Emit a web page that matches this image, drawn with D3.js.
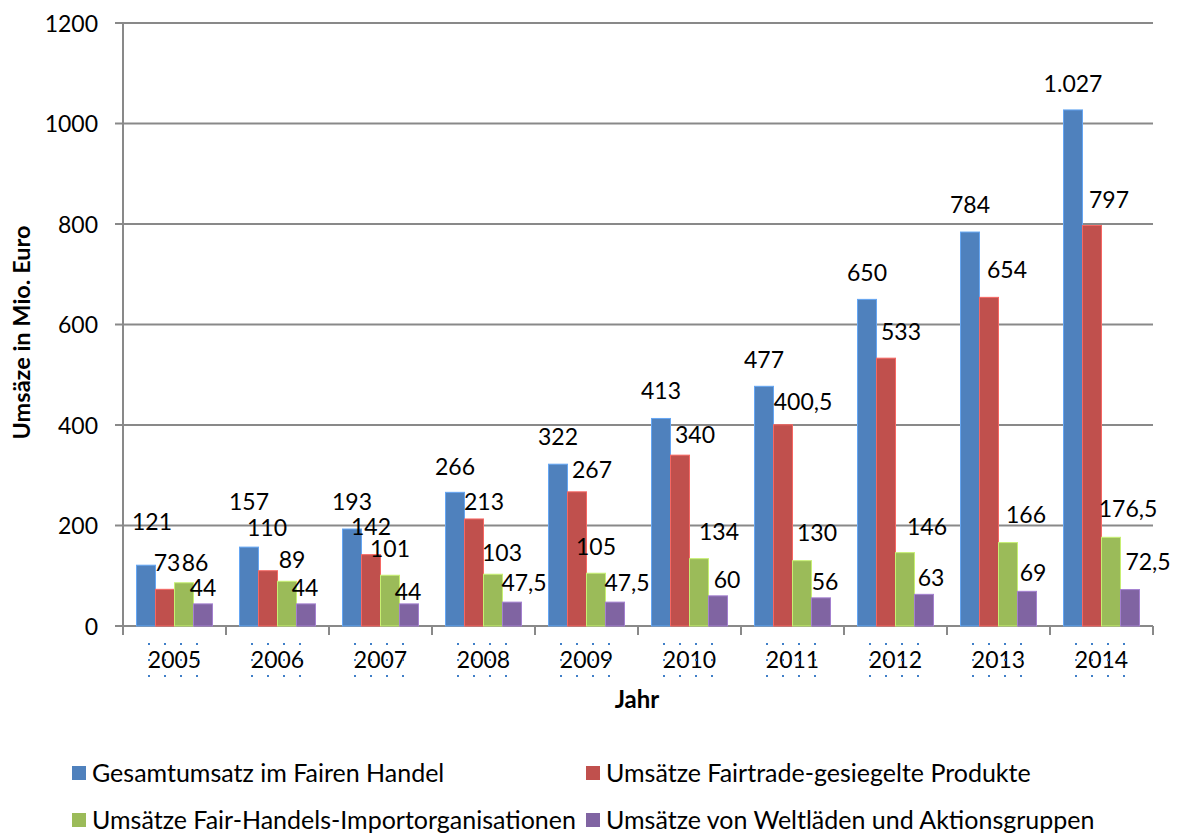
<!DOCTYPE html>
<html>
<head>
<meta charset="utf-8">
<script src="https://d3js.org/d3.v7.min.js"></script>
<style>
  body { margin: 0; background: #fff; }
  svg text { font-family: Lato, "Open Sans", sans-serif; fill: #000; }
</style>
</head>
<body>
<svg id="chart" width="1177" height="835"></svg>
<script>
// categories and series
var years = ["2005", "2006", "2007", "2008", "2009", "2010", "2011", "2012", "2013", "2014"];
var seriesNames = [
  "Gesamtumsatz im Fairen Handel",
  "Umsätze Fairtrade-gesiegelte Produkte",
  "Umsätze Fair-Handels-Importorganisationen",
  "Umsätze von Weltläden und Aktionsgruppen"
];
var gesamt    = [121, 157, 193, 266, 322, 413, 477, 650, 784, 1027];
var fairtrade = [73, 110, 142, 213, 267, 340, 400.5, 533, 654, 797];
var importOrg = [86, 89, 101, 103, 105, 134, 130, 146, 166, 176.5];
var weltladen = [44, 44, 44, 47.5, 47.5, 60, 56, 63, 69, 72.5];
var yTicks = [0, 200, 400, 600, 800, 1000, 1200];

var colors = ["#4F81BD", "#C0504D", "#9BBB59", "#8064A2"];

// label nudges (data labels were moved around by hand in the original)
var labelDx = [
  [6, 0, 0, 0, 0, 0, 0, 0, 0, 0],
  [2, -1, 0, 10, 15, 15, 20, 15, 18, 17],
  [11, 5, 0, 9, 0, 20, 15, 22, 18, 17],
  [0, -1, -1, 12, 12, 9, 4, 7, 6, 18]
];
var labelUp = [
  [43, 45, 27, 25, 27, 27, 26, 26, 27, 26],
  [26, 43, 28, 17, 22, 20, 23, 26, 27, 26],
  [20, 21, 26, 21, 26, 27, 28, 26, 28, 28],
  [16, 16, 12, 19, 19, 16, 16, 16, 18, 28]
];

var allSeries = [gesamt, fairtrade, importOrg, weltladen];

var svg = d3.select("#chart"),
    margin = {top: 23, right: 24, bottom: 209, left: 123},
    width = +svg.attr("width") - margin.left - margin.right,
    height = +svg.attr("height") - margin.top - margin.bottom;

var g = svg.append("g").attr("transform", "translate(" + margin.left + "," + margin.top + ")");

var x0 = d3.scaleBand().domain(years).range([0, width]).paddingInner(0).paddingOuter(0);
var x1 = d3.scaleBand().domain(d3.range(4)).range([13.5, x0.bandwidth() - 13.5]).padding(0);
var y = d3.scaleLinear().domain([0, 1200]).range([height, 0]);

var de = d3.formatLocale({decimal: ",", thousands: ".", grouping: [3], currency: ["", " €"]});
var fmt = de.format(",");

// gridlines
g.append("g").selectAll("line")
  .data(yTicks)
  .enter().append("line")
    .attr("x1", -8).attr("x2", width)
    .attr("y1", function(d) { return y(d); })
    .attr("y2", function(d) { return y(d); })
    .style("stroke", "#898989")
    .style("stroke-width", 2);

// y axis labels
var yAxis = d3.axisLeft(y).tickValues(yTicks).tickFormat(d3.format("d")).tickSize(0).tickPadding(25);
var ya = g.append("g").call(yAxis);
ya.select(".domain").remove();
ya.selectAll("text").style("font-size", "23px").attr("dy", "0.36em");

// y axis line
g.append("line")
  .attr("x1", 0).attr("x2", 0).attr("y1", 0).attr("y2", height)
  .style("stroke", "#898989").style("stroke-width", 2);

// category ticks
var bounds = years.map(function(d) { return x0(d); }).concat([width]);
g.append("g").selectAll("line")
  .data(bounds)
  .enter().append("line")
    .attr("x1", function(d) { return d; }).attr("x2", function(d) { return d; })
    .attr("y1", height).attr("y2", height + 9)
    .style("stroke", "#898989").style("stroke-width", 2);

// bars
var groups = g.append("g").selectAll("g")
  .data(years)
  .enter().append("g")
    .attr("transform", function(d) { return "translate(" + x0(d) + ",0)"; });

groups.selectAll("rect")
  .data(function(d, i) { return allSeries.map(function(s, k) { return {k: k, v: s[i], i: i}; }); })
  .enter().append("rect")
    .attr("x", function(d) { return x1(d.k); })
    .attr("width", x1.bandwidth())
    .attr("y", function(d) { return y(d.v); })
    .attr("height", function(d) { return height - y(d.v); })
    .style("fill", function(d) { return colors[d.k]; })
    .style("stroke", function(d) { return d3.color(colors[d.k]).brighter(0.7); })
    .style("stroke-width", 1);

// data labels
groups.selectAll("text.lbl")
  .data(function(d, i) { return allSeries.map(function(s, k) { return {k: k, v: s[i], i: i}; }); })
  .enter().append("text")
    .attr("class", "lbl")
    .attr("x", function(d) { return x1(d.k) + x1.bandwidth() / 2 + labelDx[d.k][d.i]; })
    .attr("y", function(d) { return y(d.v) - labelUp[d.k][d.i] + 8; })
    .attr("text-anchor", "middle")
    .style("font-size", "23px")
    .text(function(d) { return fmt(d.v); });

// x labels with selection dots
var xl = g.append("g").selectAll("g")
  .data(years)
  .enter().append("g")
    .attr("transform", function(d) { return "translate(" + (x0(d) + x0.bandwidth() / 2) + "," + (height + 34) + ")"; });

xl.append("text")
  .attr("text-anchor", "middle")
  .attr("y", 8)
  .style("font-size", "23px")
  .text(function(d) { return d; });

var dotX = [-25.5, -9.5, 6.5, 22.5], dotY = [-16, 0, 16];
xl.each(function() {
  var sel = d3.select(this);
  dotY.forEach(function(dy) {
    dotX.forEach(function(dx) {
      sel.append("rect")
        .attr("x", dx - 1).attr("y", dy - 1)
        .attr("width", 2).attr("height", 2)
        .style("fill", "#3f7fc8");
    });
  });
});

// axis titles
svg.append("text")
  .attr("transform", "translate(30," + (margin.top + height / 2 + 8) + ") rotate(-90)")
  .attr("text-anchor", "middle")
  .style("font-size", "23.5px")
  .style("font-weight", "bold")
  .text("Umsäze in Mio. Euro");

svg.append("text")
  .attr("x", 637).attr("y", 708)
  .attr("text-anchor", "middle")
  .style("font-size", "24px")
  .style("font-weight", "bold")
  .text("Jahr");

// legend
var legPos = [[72, 773], [586, 773], [72, 820], [586, 820]];
var leg = svg.append("g").selectAll("g")
  .data(seriesNames)
  .enter().append("g")
    .attr("transform", function(d, i) { return "translate(" + legPos[i][0] + "," + legPos[i][1] + ")"; });
leg.append("rect")
  .attr("x", 0).attr("y", -7).attr("width", 14).attr("height", 14)
  .style("fill", function(d, i) { return colors[i]; });
leg.append("text")
  .attr("x", 20).attr("y", 8.5)
  .style("font-size", "25px")
  .text(function(d) { return d; });
</script>
</body>
</html>
